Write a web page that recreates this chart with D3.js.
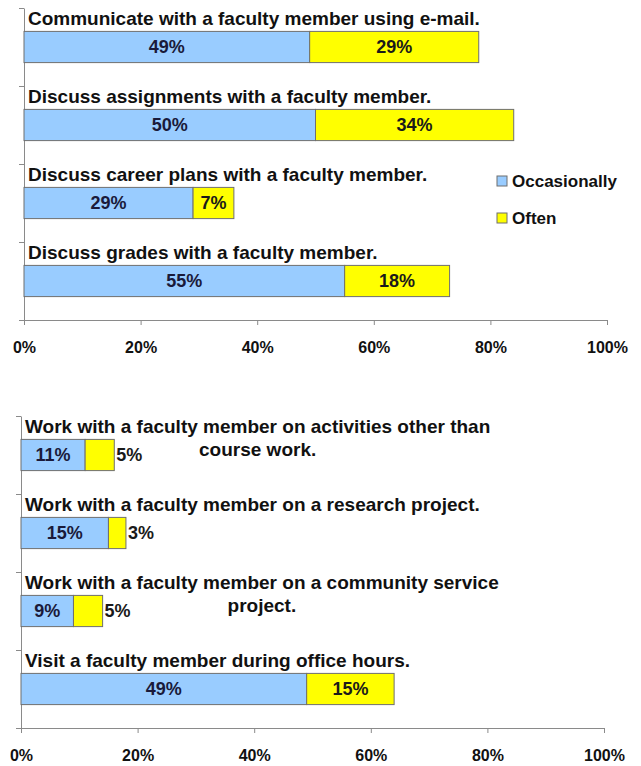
<!DOCTYPE html>
<html>
<head>
<meta charset="utf-8">
<script src="https://cdn.jsdelivr.net/npm/d3@7"></script>
<style>
  body { margin: 0; background: #fff; }
  text { font-family: "Liberation Sans", Arial, sans-serif; font-weight: bold; }
</style>
</head>
<body>
<script>
// data
var TOP_CATEGORIES = [
  "Communicate with a faculty member using e-mail.",
  "Discuss assignments with a faculty member.",
  "Discuss career plans with a faculty member.",
  "Discuss grades with a faculty member."
];
var TOP_OCCASIONALLY = [49, 50, 29, 55];
var TOP_OFTEN = [29, 34, 7, 18];

var BOTTOM_CATEGORIES = [
  "Work with a faculty member on activities other than\ncourse work.",
  "Work with a faculty member on a research project.",
  "Work with a faculty member on a community service\nproject.",
  "Visit a faculty member during office hours."
];
var BOTTOM_OCCASIONALLY = [11, 15, 9, 49];
var BOTTOM_OFTEN = [5, 3, 5, 15];

var SERIES_NAMES = ["Occasionally", "Often"];
var X_TICKS = [0, 20, 40, 60, 80, 100];

var W = 641, H = 766;
var OCC_COLOR = '#99ccff';
var OFTEN_COLOR = '#ffff00';
var BAR_STROKE = '#6f6f6f';
var AXIS_COLOR = '#8a8a8a';

SVG = d3.select('body').append('svg').attr('width', W).attr('height', H);

function drawChart(left, top, bottom, categories, occ, often, showLegend) {
  var g = SVG.append('g');
  var x = d3.scaleLinear().domain([0, 100]).range([left, left + 583]);
  var y = d3.scaleBand().domain(categories).range([top, bottom]).padding(0);
  var yLin = d3.scaleLinear().domain([0, categories.length]).range([top, bottom]);
  var barOff = y.bandwidth() * 0.3, barH = y.bandwidth() * 0.4;

  // axes
  var xAxis = g.append('g').attr('transform', 'translate(0,' + bottom + ')')
    .call(d3.axisBottom(x).tickValues(X_TICKS).tickFormat(function(d){ return d + '%'; }).tickSize(5).tickSizeOuter(0));
  xAxis.selectAll('path, line').attr('stroke', AXIS_COLOR);
  xAxis.selectAll('text').attr('y', 27).attr('dy', '0.35em')
    .attr('fill', '#111').style('font-size', '16px').style('font-weight', 'bold')
    .style('font-family', '"Liberation Sans", Arial, sans-serif');

  var yAxis = g.append('g').attr('transform', 'translate(' + left + ',0)')
    .call(d3.axisLeft(yLin).tickValues(d3.range(categories.length + 1)).tickFormat('').tickSize(5).tickSizeOuter(0));
  yAxis.selectAll('path, line').attr('stroke', AXIS_COLOR);

  var rows = categories.map(function(c, i) { return {cat: c, occ: occ[i], often: often[i]}; });

  var row = g.selectAll('.row').data(rows).enter().append('g').attr('class', 'row');

  // bars
  row.append('rect')
    .attr('x', function(d){ return x(0); })
    .attr('y', function(d){ return y(d.cat) + barOff; })
    .attr('width', function(d){ return x(d.occ) - x(0); })
    .attr('height', barH)
    .attr('fill', OCC_COLOR).attr('stroke', BAR_STROKE).attr('stroke-width', 1);
  row.append('rect')
    .attr('x', function(d){ return x(d.occ); })
    .attr('y', function(d){ return y(d.cat) + barOff; })
    .attr('width', function(d){ return x(d.occ + d.often) - x(d.occ); })
    .attr('height', barH)
    .attr('fill', OFTEN_COLOR).attr('stroke', BAR_STROKE).attr('stroke-width', 1);

  // value labels
  row.append('text')
    .attr('x', function(d){ return (x(0) + x(d.occ)) / 2; })
    .attr('y', function(d){ return y(d.cat) + barOff + barH / 2; })
    .attr('dy', '0.35em').attr('text-anchor', 'middle')
    .attr('fill', '#1a1a3a').style('font-size', '18px')
    .text(function(d){ return d.occ + '%'; });
  row.append('text')
    .attr('y', function(d){ return y(d.cat) + barOff + barH / 2; })
    .attr('dy', '0.35em')
    .attr('fill', '#1a1a1a').style('font-size', '18px')
    .text(function(d){ return d.often + '%'; })
    .each(function(d) {
      var tw = this.getComputedTextLength();
      var segW = x(d.occ + d.often) - x(d.occ);
      if (segW < tw + 6) {
        d3.select(this).attr('x', x(d.occ + d.often) + 2).attr('text-anchor', 'start');
      } else {
        d3.select(this).attr('x', (x(d.occ) + x(d.occ + d.often)) / 2).attr('text-anchor', 'middle');
      }
    });

  // category labels (first line left, wrapped lines centred under it)
  row.each(function(d) {
    var lines = d.cat.split('\n');
    var base = y(d.cat) + barOff - 6;
    var t0 = d3.select(this).append('text')
      .attr('x', left + 4).attr('y', base)
      .attr('fill', '#111').style('font-size', '19px').text(lines[0]);
    var w0 = t0.node().getComputedTextLength();
    lines.slice(1).forEach(function(l, k) {
      d3.select(this).append('text')
        .attr('x', left + 4 + w0 / 2).attr('y', base + 23 * (k + 1))
        .attr('text-anchor', 'middle')
        .attr('fill', '#111').style('font-size', '19px').text(l);
    }, this);
  });

  if (showLegend) {
    var lg = g.append('g').attr('transform', 'translate(497,176)');
    var item = lg.selectAll('g').data(SERIES_NAMES).enter().append('g')
      .attr('transform', function(d, i){ return 'translate(0,' + i * 37 + ')'; });
    item.append('rect').attr('width', 10).attr('height', 10)
      .attr('fill', function(d, i){ return i === 0 ? OCC_COLOR : OFTEN_COLOR; })
      .attr('stroke', BAR_STROKE);
    item.append('text').attr('x', 15).attr('y', 11)
      .attr('fill', '#111').style('font-size', '17px').text(function(d){ return d; });
  }
}

drawChart(24, 8, 320, TOP_CATEGORIES, TOP_OCCASIONALLY, TOP_OFTEN, true);
drawChart(21, 416, 728, BOTTOM_CATEGORIES, BOTTOM_OCCASIONALLY, BOTTOM_OFTEN, false);
</script>
</body>
</html>
